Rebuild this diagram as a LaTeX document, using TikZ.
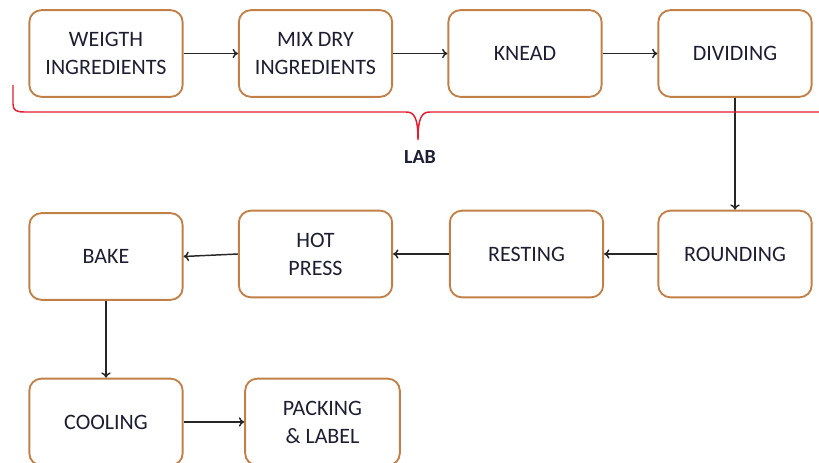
\documentclass[tikz,border=0pt]{standalone}
\usepackage{fontspec}
\setmainfont{Carlito}
\usetikzlibrary{arrows.meta}
\definecolor{boxborder}{RGB}{192,128,72}
\definecolor{txt}{RGB}{30,30,50}
\definecolor{bracered}{RGB}{232,28,48}
\begin{document}
\begin{tikzpicture}[x=0.75pt,y=-0.75pt,
  stepbox/.style={draw=boxborder,line width=1.4pt,rounded corners=9pt,
    minimum width=115pt,minimum height=65pt,align=center,text=txt,
    font=\fontsize{16.5}{21}\selectfont,fill=white},
  flow/.style={draw=black!85,line width=1.1pt,-{To[length=4pt,width=7pt]}},
  bracestyle/.style={draw=bracered,line width=1.1pt}]
\useasboundingbox (0,0) rectangle (819,463);
\node[stepbox] (w) at (106,53.5) {WEIGTH\\INGREDIENTS};
\node[stepbox] (m) at (315.5,53.5) {MIX DRY\\INGREDIENTS};
\node[stepbox] (k) at (525,53.5) {KNEAD};
\node[stepbox] (d) at (735,53.5) {DIVIDING};
\node[stepbox] (r) at (735,254) {ROUNDING};
\node[stepbox] (rest) at (526.5,254) {RESTING};
\node[stepbox] (hp) at (315.5,254) {HOT\\PRESS};
\node[stepbox] (b) at (106,256.5) {BAKE};
\node[stepbox] (c) at (106,422) {COOLING};
\node[stepbox,minimum width=116pt] (p) at (322.5,422) {PACKING\\\& LABEL};
\draw[flow] (w) -- (m);
\draw[flow] (m) -- (k);
\draw[flow] (k) -- (d);
\draw[flow] (d) -- (r);
\draw[flow] (r) -- (rest);
\draw[flow] (rest) -- (hp);
\draw[flow] (hp.west) -- (b.east);
\draw[flow] (b) -- (c);
\draw[flow] (c) -- (p);
\coordinate (bl) at (13,85);
\coordinate (br) at (819,112);
\coordinate (tip) at (418,140);
\draw[bracestyle] (bl) -- (13,104) .. controls (13,110) and (16,112) .. (24,112)
  -- (406,112) .. controls (414,112) and (418,117) .. (tip)
  .. controls (418,117) and (422,112) .. (430,112) -- (br);
\node[font=\bfseries\fontsize{15}{17}\selectfont,text=txt] (lab) at (420,157) {LAB};
\end{tikzpicture}
\end{document}
